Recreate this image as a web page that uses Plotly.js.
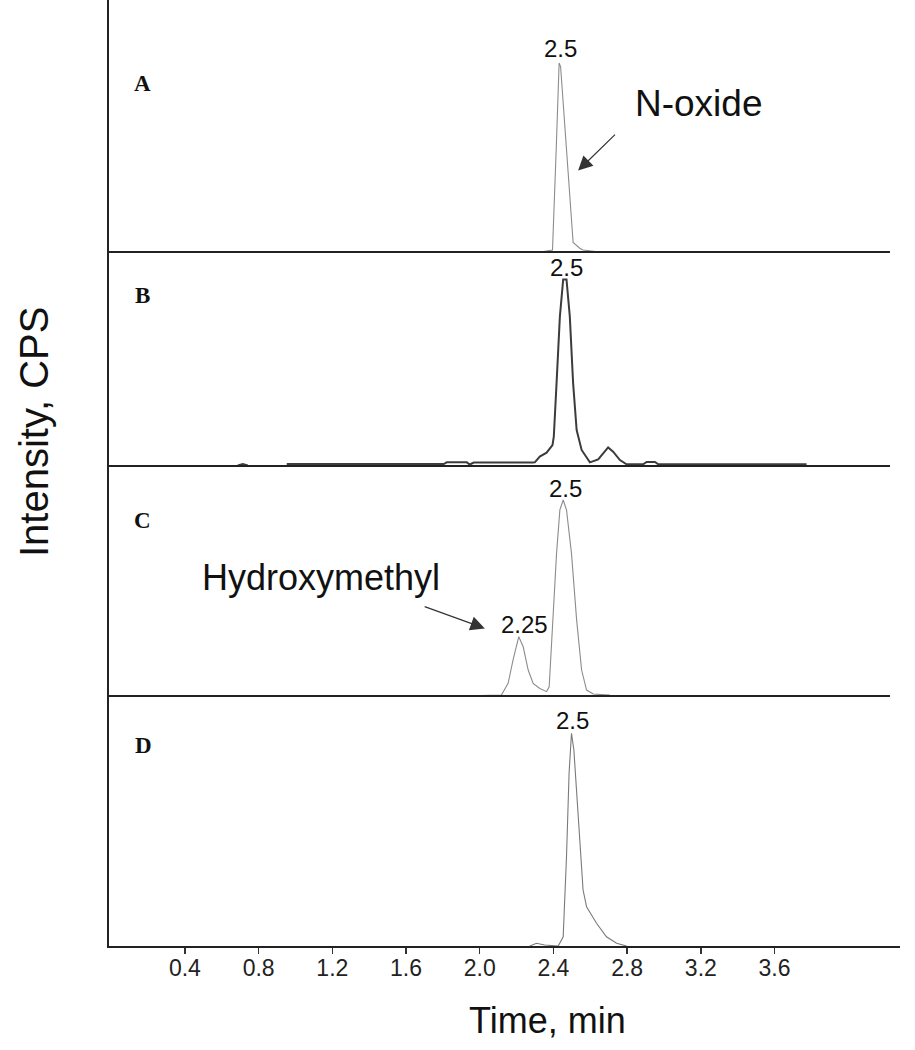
<!DOCTYPE html>
<html>
<head>
<meta charset="utf-8">
<script src="https://cdn.plot.ly/plotly-3.0.1.min.js"></script>
<style>html,body{margin:0;padding:0;background:#fff;}#chart{width:915px;height:1050px;}</style>
</head>
<body>
<div id="chart"></div>
<script>
// ---- data (time in min, intensity as % of each panel's full scale) ----
const tA = [2.33, 2.395, 2.415, 2.431, 2.439, 2.471, 2.507, 2.543, 2.561, 2.65];
const iA = [0, 0.8, 40.5, 75, 73.5, 40.5, 3.8, 1.5, 0.8, 0];

const tB = [0.687, 0.714, 0.741, null, 0.953, 1.805, 1.821, 1.930, 1.946, 1.968,
            2.288, 2.299, 2.326, 2.363, 2.395, 2.402, 2.417, 2.435, 2.453, 2.471,
            2.489, 2.507, 2.526, 2.553, 2.598, 2.643, 2.697, 2.724, 2.761, 2.797,
            2.887, 2.906, 2.951, 2.969, 3.774];
const iB = [0.2, 0.9, 0.2, null, 0.9, 0.9, 1.7, 1.7, 0.7, 1.6,
            1.6, 1.7, 4.4, 6.2, 9.8, 13.7, 38.6, 69.8, 87.2, 87.2,
            69.8, 38.6, 16.8, 7.5, 1.7, 3.1, 8.7, 6.7, 2.8, 0.8,
            0.8, 1.9, 1.9, 0.8, 0.8];

const tC = [2.000, 2.118, 2.154, 2.181, 2.212, 2.236, 2.263, 2.290, 2.326, 2.363, 2.377,
            2.398, 2.417, 2.435, 2.453, 2.471, 2.498, 2.526, 2.553, 2.580, 2.616, 2.706];
const iC = [0.2, 0.4, 5.5, 15.7, 25.8, 21.4, 11.3, 5.5, 3.3, 1.9, 4.0,
            33.0, 62.0, 80.9, 85.2, 80.9, 62.0, 33.0, 11.3, 2.6, 0.9, 0.4];

const tD = [2.272, 2.308, 2.353, 2.426, 2.453, 2.471, 2.485, 2.498, 2.511, 2.526,
            2.543, 2.561, 2.580, 2.634, 2.688, 2.743, 2.797];
const iD = [0, 1.1, 0.4, 0, 3.7, 35.7, 69.1, 85.1, 78.4, 62.4,
            42.4, 22.4, 15.7, 9.1, 3.7, 1.1, 0];

const xTicks = [0.4, 0.8, 1.2, 1.6, 2.0, 2.4, 2.8, 3.2, 3.6];
const xTickText = xTicks.map(v => v.toFixed(1));
const panelLetters = ['A', 'B', 'C', 'D'];
const peakLabels = ['2.5', '2.5', '2.25', '2.5', '2.5'];
const compoundNames = ['N-oxide', 'Hydroxymethyl'];

// ---- layout helpers (pixel -> paper) ----
const W = 915, H = 1050, ML = 109, MR = 15, MT = 0, MB = 104;
const PW = W - ML - MR, PH = H - MT - MB;
const px = x => (x - ML) / PW;
const py = y => (MT + PH - y) / PH;

const SANS = 'Liberation Sans, Arial, sans-serif';
const SERIF = 'Liberation Serif, Times New Roman, serif';

const traces = [
  {x: tA, y: iA, xaxis: 'x4', yaxis: 'y4', mode: 'lines', line: {color: '#8c8c8c', width: 1.1}},
  {x: tB, y: iB, xaxis: 'x3', yaxis: 'y3', mode: 'lines', line: {color: '#3c3c3c', width: 2}},
  {x: tC, y: iC, xaxis: 'x2', yaxis: 'y2', mode: 'lines', line: {color: '#8c8c8c', width: 1.1}},
  {x: tD, y: iD, xaxis: 'x', yaxis: 'y', mode: 'lines', line: {color: '#7a7a7a', width: 1.1}}
];

const yBase = {range: [0, 100], showline: true, linewidth: 2, linecolor: '#222', ticks: '',
  showticklabels: false, showgrid: false, zeroline: false, fixedrange: true};
const xHidden = {matches: 'x', visible: false, showgrid: false, zeroline: false};

const dD = [0, 250 / PH], dC = [250 / PH, 480 / PH], dB = [480 / PH, 694 / PH], dA = [694 / PH, 1];

const letterPos = [[142, 83], [142, 295], [142, 520], [143, 745]];
const peakPos = [[560, 48], [566.7, 267], [524.7, 624.7], [565, 488], [572.5, 720]];

const annotations = [];
panelLetters.forEach((t, k) => annotations.push({
  text: t, xref: 'paper', yref: 'paper', x: px(letterPos[k][0]), y: py(letterPos[k][1]),
  xanchor: 'center', yanchor: 'middle', showarrow: false,
  font: {family: SERIF, size: 23, color: '#111', weight: 'bold'}
}));
peakLabels.forEach((t, k) => annotations.push({
  text: t, xref: 'paper', yref: 'paper', x: px(peakPos[k][0]), y: py(peakPos[k][1]),
  xanchor: 'center', yanchor: 'middle', showarrow: false,
  font: {family: SANS, size: 24, color: '#111'}
}));
annotations.push({text: compoundNames[0], xref: 'paper', yref: 'paper', x: px(633), y: py(103),
  xanchor: 'left', yanchor: 'middle', showarrow: false, font: {family: SANS, size: 37, color: '#111'}});
annotations.push({text: compoundNames[1], xref: 'paper', yref: 'paper', x: px(320.8), y: py(577.5),
  xanchor: 'center', yanchor: 'middle', showarrow: false, font: {family: SANS, size: 36, color: '#111'}});
// arrows
annotations.push({text: '', xref: 'x4', yref: 'y4', x: 2.534, y: 32.3, ax: 38.4, ay: -37.4,
  showarrow: true, arrowhead: 2, arrowsize: 2.4, arrowwidth: 1.2, arrowcolor: '#333', standoff: 0});
annotations.push({text: '', xref: 'x2', yref: 'y2', x: 2.028, y: 29.4, ax: -61.7, ay: -22.3,
  showarrow: true, arrowhead: 2, arrowsize: 2.4, arrowwidth: 1.2, arrowcolor: '#333', standoff: 0});
// axis titles
annotations.push({text: 'Intensity, CPS', xref: 'paper', yref: 'paper', x: px(34), y: py(432),
  xanchor: 'center', yanchor: 'middle', textangle: -90, showarrow: false,
  font: {family: SANS, size: 40, color: '#111'}});
annotations.push({text: 'Time, min', xref: 'paper', yref: 'paper', x: px(547), y: py(1020),
  xanchor: 'center', yanchor: 'middle', showarrow: false,
  font: {family: SANS, size: 36, color: '#111'}});

const shapes = [252, 466, 696].map(y => ({
  type: 'line', xref: 'paper', yref: 'paper', x0: 0, x1: px(890), y0: py(y), y1: py(y),
  line: {color: '#222', width: 2}
}));

const layout = {
  width: W, height: H,
  margin: {l: ML, r: MR, t: MT, b: MB, pad: 0},
  paper_bgcolor: '#fff', plot_bgcolor: '#fff',
  showlegend: false,
  xaxis: {domain: [0, 1], anchor: 'y', range: [-0.012, 4.281], showline: true, linewidth: 2,
    linecolor: '#222', ticks: 'outside', ticklen: 6, tickwidth: 1.5, tickcolor: '#333',
    tickvals: xTicks, ticktext: xTickText, tickfont: {family: SANS, size: 23, color: '#222'},
    ticklabelstandoff: -6, showgrid: false, zeroline: false, fixedrange: true},
  xaxis2: Object.assign({anchor: 'y2'}, xHidden),
  xaxis3: Object.assign({anchor: 'y3'}, xHidden),
  xaxis4: Object.assign({anchor: 'y4'}, xHidden),
  yaxis: Object.assign({domain: dD, anchor: 'x'}, yBase),
  yaxis2: Object.assign({domain: dC, anchor: 'x2'}, yBase),
  yaxis3: Object.assign({domain: dB, anchor: 'x3'}, yBase),
  yaxis4: Object.assign({domain: dA, anchor: 'x4'}, yBase),
  annotations: annotations,
  shapes: shapes
};

Plotly.newPlot('chart', traces, layout, {displayModeBar: false, staticPlot: true});
</script>
</body>
</html>
